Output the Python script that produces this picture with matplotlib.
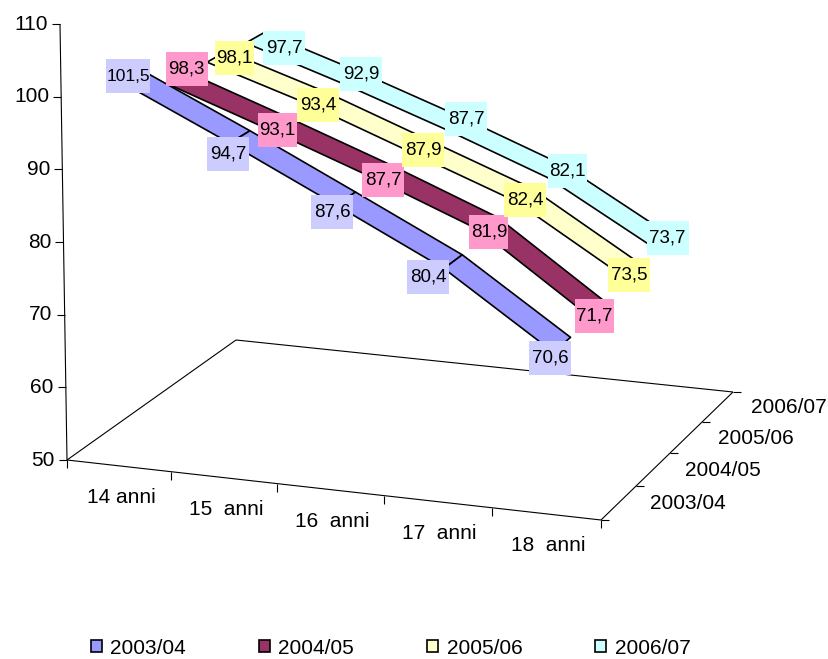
import numpy as np
import matplotlib
matplotlib.use('Agg')
import matplotlib.pyplot as plt
from matplotlib.patches import Patch, Polygon, Rectangle

plt.rcParams['font.family'] = ['Liberation Sans', 'DejaVu Sans']

ages = ['14 anni', '15  anni', '16  anni', '17  anni', '18  anni']
years = ['2003/04', '2004/05', '2005/06', '2006/07']
v_0304 = [101.5, 94.7, 87.6, 80.4, 70.6]
v_0405 = [98.3, 93.1, 87.7, 81.9, 71.7]
v_0506 = [98.1, 93.4, 87.9, 82.4, 73.5]
v_0607 = [97.7, 92.9, 87.7, 82.1, 73.7]
series = [v_0304, v_0405, v_0506, v_0607]
band_colors = ['#9999FF', '#993366', '#FFFFCC', '#CCFFFF']
label_colors = ['#CCCCFF', '#FF99CC', '#FFFF99', '#CCFFFF']
yticks = [50, 60, 70, 80, 90, 100, 110]

# label nudges in pixels, excel puts them a bit unevenly
label_dx = [[-7, -12, -13.5, -25, -12], [8, -4, -2, -1.5, -2.5],
            [14.5, -2.5, 0, -1, -2], [24.5, 2, 7, 6.5, 4]]
label_dy = [[-2, 17.5, 13, 15, 13], [-8, 7, 9, 9, 9],
            [3, 8.5, 6, 8, 9.5], [13.5, -2.5, -2, 2, 1]]

# floor corners and top of the value axis, in pixels
FL = (67, 460)
FR = (601, 520)
BR = (733, 392)
BL = (236, 340)
TOP = (60, 24)

# homography unit square -> floor
A = []
b = []
for (u, v), (x, y) in zip([(0, 0), (1, 0), (1, 1), (0, 1)], [FL, FR, BR, BL]):
    A.append([u, v, 1, 0, 0, 0, -u*x, -v*x])
    A.append([0, 0, 0, u, v, 1, -u*y, -v*y])
    b += [x, y]
s = np.linalg.solve(np.array(A, float), np.array(b, float))
H = np.array([[s[0], s[1], s[2]], [s[3], s[4], s[5]], [s[6], s[7], 1.0]])
up = np.array([TOP[0]-FL[0], TOP[1]-FL[1], 0.0])


def proj(u, v, val=50):
    h = (val - 50) / 60.0
    p = H @ np.array([u, v, 1.0]) + h * up
    return p[0] / p[2], p[1] / p[2]


def cat_u(i):
    return (i + 0.5) / len(ages)


def ser_v(j):
    return (j + 0.5) / len(years)


def ribbon_v(j):
    return 0.125 + 0.24 * j


fig = plt.figure(figsize=(8.29, 6.59), dpi=100)
ax = fig.add_axes([0, 0, 1, 1])
ax.set_xlim(0, 829)
ax.set_ylim(659, 0)
ax.axis('off')


def line(p, q, lw=0.8):
    ax.plot([p[0], q[0]], [p[1], q[1]], color='black', lw=lw, solid_capstyle='butt')


# axes
line(proj(0, 0), proj(0, 0, 110))
line(proj(0, 0), proj(1, 0))
line(proj(1, 0), proj(1, 1))
line(proj(1, 1), proj(0, 1))
line(proj(0, 1), proj(0, 0))

for t in yticks:
    x, y = proj(0, 0, t)
    line((x - 8, y), (x, y))
    ax.text(x - 12, y, str(t), ha='right', va='center', fontsize=15)

for i in range(len(ages) + 1):
    x, y = proj(i / len(ages), 0)
    line((x, y), (x, y + 8))
for i, a in enumerate(ages):
    x, y = proj(cat_u(i), 0)
    ax.text(x + 2, y + 32, a, ha='center', va='center', fontsize=15)

for j in range(len(years) + 1):
    x, y = proj(1, j / len(years))
    line((x, y), (x + 8, y))
for j, yr in enumerate(years):
    x, y = proj(1, ser_v(j))
    ax.text(x + 33 - 2 * (1 - j / 3), y + 1, yr, ha='left', va='center', fontsize=15)

# ribbons, back to front
dv = 0.06
for j in range(len(years) - 1, -1, -1):
    vals = series[j]
    for i in range(len(vals) - 1):
        u0, u1 = cat_u(i), cat_u(i + 1)
        front0 = proj(u0, ribbon_v(j) - dv, vals[i])
        front1 = proj(u1, ribbon_v(j) - dv, vals[i + 1])
        back0 = proj(u0, ribbon_v(j) + dv, vals[i])
        back1 = proj(u1, ribbon_v(j) + dv, vals[i + 1])
        ax.add_patch(Polygon([front0, front1, back1, back0], closed=True,
                             facecolor=band_colors[j], edgecolor='black', lw=1.2, joinstyle='round'))

# data labels, boxes are narrower when a 1 sits next to the comma
for j, vals in enumerate(series):
    for i, val in enumerate(vals):
        x, y = proj(cat_u(i), ser_v(j), val)
        x += label_dx[j][i]
        y += label_dy[j][i]
        txt = f'{val:.1f}'.replace('.', ',')
        w = 42
        fs = 13.5
        if val > 100:
            w = 44
            fs = 12.5
        elif '1,' in txt or ',1' in txt:
            w = 39
        ax.text(x, y, txt, ha='center', va='center', fontsize=fs, zorder=6)
        ax.add_patch(Rectangle((x - w / 2, y - 17), w, 34, facecolor=label_colors[j], edgecolor='none', zorder=5))

handles = [Patch(facecolor=c, edgecolor='black', lw=1.2) for c in band_colors]
ax.legend(handles, years, loc='center', bbox_to_anchor=(390.5 / 829, 1 - 648 / 659), ncol=4, frameon=False,
          fontsize=15, handlelength=0.55, handleheight=0.55, handletextpad=0.4, columnspacing=3.48)

fig.savefig('out.png', dpi=100)
